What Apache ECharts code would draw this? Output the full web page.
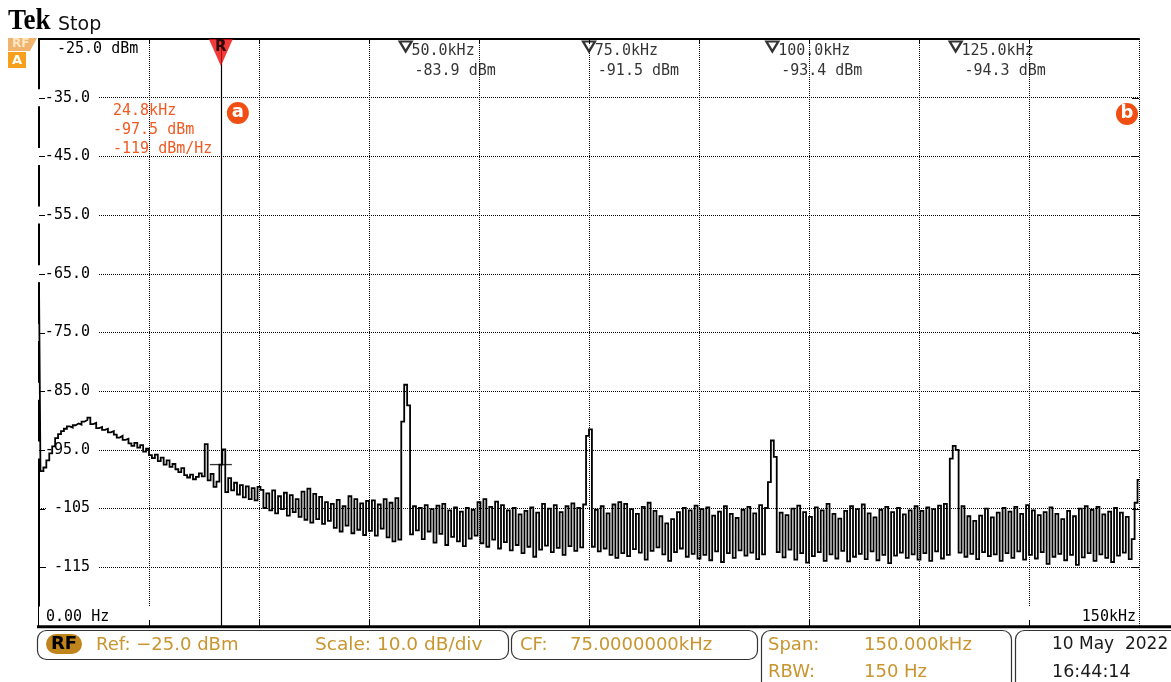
<!DOCTYPE html>
<html>
<head>
<meta charset="utf-8">
<title>Spectrum</title>
<script src="https://cdn.jsdelivr.net/npm/echarts@6/dist/echarts.min.js"></script>
<style>
  html, body { margin: 0; padding: 0; background: #fff; }
  #chart { width: 1171px; height: 682px; }
</style>
</head>
<body>
<div id="chart"></div>
<script>
// ---- Frequency axis (kHz) ----
const freqStartKhz = 0;
const freqStopKhz = 150;
const freqDivKhz = 15;
const freqStepKhz = 0.4;
const freqTickValues = [15, 30, 45, 60, 75, 90, 105, 120, 135];

// ---- Level axis (dBm) ----
const refLevelDbm = -25;
const bottomLevelDbm = -125;
const scaleDbPerDiv = 10;
const levelTickValues = [-35, -45, -55, -65, -75, -85, -95, -105, -115];
const levelTickLabels = ['-35.0', '-45.0', '-55.0', '-65.0', '-75.0', '-85.0', '-95.0', '-105', '-115'];

// ---- Trace: one level per 0.4 kHz bin, 0 .. 150 kHz ----
const traceDbm = [
  /*   0 */ -66.5, -98.6, -98.0, -96.8, -95.6, -94.4, -93.0, -92.3, -91.8, -91.4,
  /*  10 */ -91.0, -91.2, -90.8, -90.5, -90.7, -90.2, -89.9, -89.5, -90.6, -90.4,
  /*  20 */ -91.3, -91.1, -91.6, -91.4, -92.0, -91.8, -92.4, -92.9, -92.6, -93.3,
  /*  30 */ -93.1, -93.9, -94.3, -93.8, -94.6, -94.2, -95.3, -94.8, -95.9, -96.4,
  /*  40 */ -95.8, -96.9, -96.3, -97.5, -96.8, -97.9, -97.4, -98.3, -98.8, -98.1,
  /*  50 */ -99.3, -99.7, -99.2, -100.0, -99.6, -99.0, -99.5, -94.0, -100.2, -99.1,
  /*  60 */ -101.3, -100.4, -97.5, -94.9, -102.2, -99.8, -101.9, -100.6, -102.6, -101.0,
  /*  70 */ -103.1, -101.2, -103.4, -101.5, -103.6, -101.3, -101.8, -104.9, -102.4, -105.3,
  /*  80 */ -101.9, -105.8, -102.9, -105.1, -102.3, -106.2, -102.7, -105.6, -103.4, -106.4,
  /*  90 */ -102.1, -106.9, -101.6, -107.4, -102.5, -106.8, -103.0, -107.6, -103.9, -107.1,
  /* 100 */ -104.2, -108.3, -103.5, -108.9, -104.6, -107.9, -102.9, -109.2, -103.4, -108.6,
  /* 110 */ -104.1, -109.5, -103.7, -108.8, -103.6, -109.6, -104.3, -108.4, -103.4, -109.9,
  /* 120 */ -104.0, -110.6, -103.2, -110.3, -90.2, -83.9, -87.4, -109.4, -104.6, -108.7,
  /* 130 */ -104.9, -110.2, -104.4, -108.9, -105.1, -110.8, -104.5, -109.3, -104.2, -111.2,
  /* 140 */ -105.3, -109.8, -104.8, -110.6, -105.5, -111.4, -104.9, -110.1, -105.2, -109.6,
  /* 150 */ -103.9, -110.9, -103.4, -111.5, -104.7, -110.3, -103.8, -111.8, -104.4, -110.7,
  /* 160 */ -105.3, -112.1, -104.9, -111.2, -106.0, -112.6, -105.4, -111.5, -104.8, -113.2,
  /* 170 */ -105.7, -112.0, -104.2, -111.3, -105.0, -112.4, -104.4, -111.7, -105.6, -112.9,
  /* 180 */ -104.6, -111.4, -104.1, -112.2, -104.9, -111.6, -104.3, -92.6, -91.5, -111.5,
  /* 190 */ -105.2, -112.3, -104.6, -111.8, -105.8, -112.9, -104.3, -113.4, -103.9, -112.6,
  /* 200 */ -104.2, -113.1, -105.1, -111.9, -105.9, -112.5, -104.7, -113.7, -104.0, -112.2,
  /* 210 */ -105.4, -111.6, -106.3, -112.8, -107.5, -113.9, -106.8, -112.4, -105.6, -111.8,
  /* 220 */ -104.9, -113.2, -105.3, -112.7, -104.5, -113.5, -105.1, -112.9, -104.8, -113.8,
  /* 230 */ -106.2, -112.3, -105.5, -114.1, -104.6, -112.6, -105.9, -113.4, -106.6, -112.1,
  /* 240 */ -105.2, -113.0, -104.7, -112.5, -105.8, -113.6, -104.4, -112.8, -104.9, -100.5,
  /* 250 */ -93.4, -96.2, -112.4, -105.7, -113.3, -106.1, -112.0, -105.0, -113.7, -104.5,
  /* 260 */ -112.6, -105.6, -114.2, -106.4, -113.1, -104.8, -112.4, -105.3, -113.9, -104.2,
  /* 270 */ -112.8, -105.9, -113.5, -106.7, -112.2, -105.4, -114.0, -104.6, -113.2, -105.1,
  /* 280 */ -112.7, -104.3, -113.6, -105.8, -112.3, -106.5, -113.8, -105.2, -112.9, -104.7,
  /* 290 */ -114.3, -105.6, -113.0, -104.9, -112.5, -106.0, -113.4, -105.3, -112.8, -104.6,
  /* 300 */ -113.7, -105.4, -112.6, -104.8, -113.9, -105.1, -112.3, -104.5, -113.5, -104.2,
  /* 310 */ -112.9, -96.5, -94.3, -95.0, -112.5, -104.6, -113.2, -106.3, -112.7, -107.1,
  /* 320 */ -113.6, -106.2, -112.4, -105.0, -113.1, -106.5, -112.8, -105.7, -113.9, -104.9,
  /* 330 */ -112.6, -105.5, -113.4, -104.7, -112.3, -105.9, -113.7, -104.4, -112.9, -105.3,
  /* 340 */ -113.5, -106.1, -112.4, -105.6, -114.4, -104.8, -113.2, -105.9, -112.7, -106.8,
  /* 350 */ -113.8, -105.4, -112.9, -106.3, -114.6, -105.0, -113.3, -104.6, -112.6, -105.2,
  /* 360 */ -113.9, -104.7, -112.8, -106.0, -113.4, -105.5, -114.1, -104.9, -113.0, -105.7,
  /* 370 */ -112.5, -106.4, -113.6, -110.2, -104.0, -100.1
];

// ---- Peak markers ----
const peakFreqKhz = [50.0, 75.0, 100.0, 125.0];
const peakDbm = [-83.9, -91.5, -93.4, -94.3];

// ---- Marker a (reference marker R) ----
const markerAFreqKhz = 24.8;
const markerADbm = -97.5;
const markerADensityDbmHz = -119;

// ---- Status readouts ----
const rbwHz = 150;
const dateText = '10 May  2022';
const timeText = '16:44:14';

const MONO = "'DejaVu Sans Mono', 'Liberation Mono', monospace";
const SANS = "'DejaVu Sans', 'Noto Sans', sans-serif";
const GOLD = '#c8952f';
const ORANGE = '#f25a22';

const traceData = traceDbm.map((v, i) => [Math.round(i * freqStepKhz * 10) / 10, v]);
const levelLabelOf = {};
levelTickValues.forEach((v, i) => { levelLabelOf[v] = levelTickLabels[i]; });

const chart = echarts.init(document.getElementById('chart'), null, { renderer: 'canvas' });

const gridLeft = 39, gridTop = 39, gridWidth = 1100, gridHeight = 587;

function statusText(x, y, text, color, size) {
  return {
    type: 'text', x: x, y: y, z: 20,
    style: { text: text, fill: color, font: (size || 18) + 'px ' + SANS, textVerticalAlign: 'middle', textAlign: 'left' }
  };
}

const option = {
  animation: false,
  backgroundColor: '#fff',
  grid: { left: gridLeft, top: gridTop, width: gridWidth, height: gridHeight, containLabel: false },
  xAxis: [
    {
      type: 'value', position: 'bottom',
      min: freqStartKhz, max: freqStopKhz, interval: freqDivKhz,
      axisLine: { show: false },
      axisTick: { show: false },
      axisLabel: {
        show: true, inside: true, margin: 9, verticalAlign: 'middle',
        alignMinLabel: 'left', alignMaxLabel: 'right',
        formatter: function (v) {
          if (v === freqStartKhz) return '{lo|' + freqStartKhz.toFixed(2) + ' Hz}';
          if (v === freqStopKhz) return '{hi|' + freqStopKhz + 'kHz}';
          return '';
        },
        rich: {
          lo: { fontFamily: MONO, fontSize: 15, color: '#000', backgroundColor: '#fff', padding: [3, 41, 3, 7] },
          hi: { fontFamily: MONO, fontSize: 15, color: '#000', backgroundColor: '#fff', padding: [3, 3, 3, 57] }
        }
      },
      splitLine: { show: true, lineStyle: { color: '#000', width: 1, type: [1, 1] } }
    },
    {
      type: 'value', position: 'top',
      min: freqStartKhz, max: freqStopKhz, interval: freqDivKhz,
      axisLine: { show: true, lineStyle: { color: '#000', width: 2 } },
      axisTick: { show: false },
      axisLabel: { show: false },
      splitLine: { show: false }
    }
  ],
  yAxis: [
    {
      type: 'value', position: 'left',
      min: bottomLevelDbm, max: refLevelDbm, interval: scaleDbPerDiv,
      axisLine: { show: true, lineStyle: { color: '#000', width: 2 } },
      axisTick: { show: false },
      axisLabel: {
        show: true, inside: true, margin: 59, align: 'right', verticalAlign: 'middle',
        showMinLabel: false, showMaxLabel: false,
        fontFamily: MONO, fontSize: 15, color: '#000',
        backgroundColor: '#fff', padding: [1, 8, 1, 7],
        formatter: function (v) { return levelLabelOf[v] || ''; }
      },
      splitLine: { show: true, lineStyle: { color: '#000', width: 1, type: [1, 1] } }
    },
    {
      type: 'value', position: 'right',
      min: bottomLevelDbm, max: refLevelDbm, interval: scaleDbPerDiv,
      axisLine: { show: true, lineStyle: { color: '#000', width: 2 } },
      axisTick: { show: false },
      axisLabel: { show: false },
      splitLine: { show: false }
    }
  ],
  series: [
    {
      name: 'trace', type: 'line', step: 'middle',
      data: traceData, showSymbol: false, symbol: 'none',
      sampling: null, z: 3, silent: true,
      lineStyle: { color: '#000', width: 1.8, join: 'miter' },
      markLine: {
        silent: true, symbol: ['none', 'none'], animation: false,
        label: { show: false },
        lineStyle: { color: '#000', width: 1.2, type: 'solid' },
        data: [{ xAxis: markerAFreqKhz }]
      }
    },
    {
      name: 'marker a', type: 'scatter', z: 4, silent: true,
      data: [[markerAFreqKhz, markerADbm]],
      symbol: 'rect', symbolSize: [22, 1.3],
      itemStyle: { color: '#000' }
    },
    {
      name: 'reference marker', type: 'scatter', z: 6, silent: true, clip: false,
      data: [[markerAFreqKhz, refLevelDbm]],
      symbol: 'path://M0,0 L24,0 L12,27 Z', symbolSize: [24, 27], symbolOffset: [0, 13.5],
      itemStyle: { color: '#ee0a0a' },
      label: {
        show: true, position: 'inside', offset: [0, -5], formatter: 'R',
        fontFamily: SANS, fontWeight: 'bold', fontSize: 15, color: '#000'
      }
    },
    {
      name: 'peaks', type: 'scatter', z: 6, silent: true, clip: false,
      data: peakFreqKhz.map((f, i) => [f, refLevelDbm, peakDbm[i]]),
      symbol: 'path://M0,0 L12,0 L6,10 Z', symbolSize: [12, 10], symbolOffset: [0, 7.5],
      itemStyle: { color: '#fff', borderColor: '#000', borderWidth: 2.2 },
      label: {
        show: true, position: [13, 1], align: 'left',
        formatter: function (p) {
          return '{f|' + p.value[0].toFixed(1) + 'kHz}\n{v|' + p.value[2].toFixed(1) + ' dBm}';
        },
        rich: {
          f: { fontFamily: MONO, fontSize: 15, lineHeight: 20, color: '#000' },
          v: { fontFamily: MONO, fontSize: 15, lineHeight: 20, color: '#000', padding: [0, 0, 0, 3] }
        }
      }
    }
  ],
  graphic: []
};

chart.setOption(option);

// Chrome drawn around the plot: graticule ticks, header, reference level, marker readout, status bar
const px = (f) => chart.convertToPixel({ xAxisIndex: 0 }, f);
const py = (d) => chart.convertToPixel({ yAxisIndex: 0 }, d);
const markerX = px(markerAFreqKhz);
const cfKhz = (freqStartKhz + freqStopKhz) / 2;
const spanKhz = freqStopKhz - freqStartKhz;
const plotL = px(freqStartKhz), plotR = px(freqStopKhz);
const plotT = py(refLevelDbm), plotB = py(bottomLevelDbm);

const tickStyle = { stroke: '#000', lineWidth: 1 };
const ticks = [];
levelTickValues.forEach((v) => {
  const y = Math.round(py(v)) + 0.5;
  ticks.push({ type: 'line', z: 21, shape: { x1: plotL, y1: y, x2: plotL + 6, y2: y }, style: tickStyle });
  ticks.push({ type: 'line', z: 21, shape: { x1: plotR - 7, y1: y, x2: plotR, y2: y }, style: tickStyle });
});
freqTickValues.forEach((f) => {
  const x = Math.round(px(f)) + 0.5;
  ticks.push({ type: 'line', z: 21, shape: { x1: x, y1: plotT, x2: x, y2: plotT + 5 }, style: tickStyle });
  ticks.push({ type: 'line', z: 21, shape: { x1: x, y1: plotB - 6, x2: x, y2: plotB }, style: tickStyle });
});

const graphics = ticks.concat([
  // header
  { type: 'text', x: 8, y: 36, scaleX: 0.9, z: 20,
    style: { text: 'Tek', fill: '#000', font: 'bold 30px "Liberation Serif", serif', textVerticalAlign: 'bottom' } },
  { type: 'text', x: 58, y: 35, z: 20,
    style: { text: 'Stop', fill: '#111', font: '19px ' + SANS, textVerticalAlign: 'bottom' } },
  // channel badges
  { type: 'polygon', z: 20, shape: { points: [[8, 38], [37, 38], [30, 51], [8, 51]] }, style: { fill: '#f0b46e' } },
  { type: 'text', x: 12, y: 44, z: 21, style: { text: 'RF', fill: '#fde6c4', font: 'bold 12px ' + SANS, textVerticalAlign: 'middle' } },
  { type: 'rect', z: 20, shape: { x: 8, y: 52, width: 18, height: 16 }, style: { fill: '#f7a01c' } },
  { type: 'text', x: 17, y: 60.5, z: 21, style: { text: 'A', fill: '#fff', font: 'bold 13px ' + SANS, textAlign: 'center', textVerticalAlign: 'middle' } },
  // reference level
  { type: 'text', x: 57, y: 49, z: 20,
    style: { text: refLevelDbm.toFixed(1) + ' dBm', fill: '#000', font: '15px ' + MONO, textVerticalAlign: 'middle' } },
  // marker a readout
  { type: 'text', x: 113, y: 111, z: 20,
    style: { text: markerAFreqKhz.toFixed(1) + 'kHz', fill: ORANGE, font: '15px ' + MONO, textVerticalAlign: 'middle' } },
  { type: 'text', x: 113, y: 130, z: 20,
    style: { text: markerADbm.toFixed(1) + ' dBm', fill: ORANGE, font: '15px ' + MONO, textVerticalAlign: 'middle' } },
  { type: 'text', x: 113, y: 149, z: 20,
    style: { text: markerADensityDbmHz + ' dBm/Hz', fill: ORANGE, font: '15px ' + MONO, textVerticalAlign: 'middle' } },
  // marker badges
  { type: 'circle', z: 20, shape: { cx: markerX + 17, cy: 113, r: 11 }, style: { fill: '#f04e12' } },
  { type: 'text', x: markerX + 17, y: 112, z: 21,
    style: { text: 'a', fill: '#fff', font: 'bold 18px ' + SANS, textAlign: 'center', textVerticalAlign: 'middle' } },
  { type: 'circle', z: 20, shape: { cx: plotR - 12, cy: 114, r: 11 }, style: { fill: '#f04e12' } },
  { type: 'text', x: plotR - 12, y: 113, z: 21,
    style: { text: 'b', fill: '#fff', font: 'bold 18px ' + SANS, textAlign: 'center', textVerticalAlign: 'middle' } },
  // heavy base line under the graticule
  { type: 'line', z: 20, shape: { x1: 37, y1: plotB + 0.8, x2: 1171, y2: plotB + 0.8 }, style: { stroke: '#000', lineWidth: 3 } },
  // status boxes
  { type: 'rect', z: 19, shape: { x: 37.5, y: 630.5, width: 471, height: 29, r: 9 }, style: { fill: '#fff', stroke: '#333', lineWidth: 1.2 } },
  { type: 'rect', z: 19, shape: { x: 511.5, y: 630.5, width: 246, height: 29, r: 9 }, style: { fill: '#fff', stroke: '#333', lineWidth: 1.2 } },
  { type: 'rect', z: 19, shape: { x: 761.5, y: 630.5, width: 250, height: 70, r: 9 }, style: { fill: '#fff', stroke: '#333', lineWidth: 1.2 } },
  { type: 'rect', z: 19, shape: { x: 1015.5, y: 630.5, width: 170, height: 70, r: 9 }, style: { fill: '#fff', stroke: '#333', lineWidth: 1.2 } },
  { type: 'rect', z: 20, shape: { x: 46, y: 634, width: 36, height: 20, r: 10 }, style: { fill: '#c0841c' } },
  { type: 'text', x: 64, y: 644.5, z: 21,
    style: { text: 'RF', fill: '#000', font: 'bold 18px ' + SANS, textAlign: 'center', textVerticalAlign: 'middle' } },
  statusText(96, 645, 'Ref: ' + refLevelDbm.toFixed(1).replace('-', '\u2212') + ' dBm', GOLD),
  statusText(315, 645, 'Scale: ' + scaleDbPerDiv.toFixed(1) + ' dB/div', GOLD, 18.5),
  statusText(520, 645, 'CF:', GOLD),
  statusText(570, 645, cfKhz.toFixed(7) + 'kHz', GOLD),
  statusText(768, 645, 'Span:', GOLD),
  statusText(864, 645, spanKhz.toFixed(3) + 'kHz', GOLD),
  statusText(768, 672, 'RBW:', GOLD),
  statusText(864, 672, rbwHz + ' Hz', GOLD),
  statusText(1052, 645, dateText, '#1a1a1a', 17),
  statusText(1052, 672, timeText, '#1a1a1a', 17.5)
]);

chart.setOption({ graphic: graphics });
</script>
</body>
</html>
